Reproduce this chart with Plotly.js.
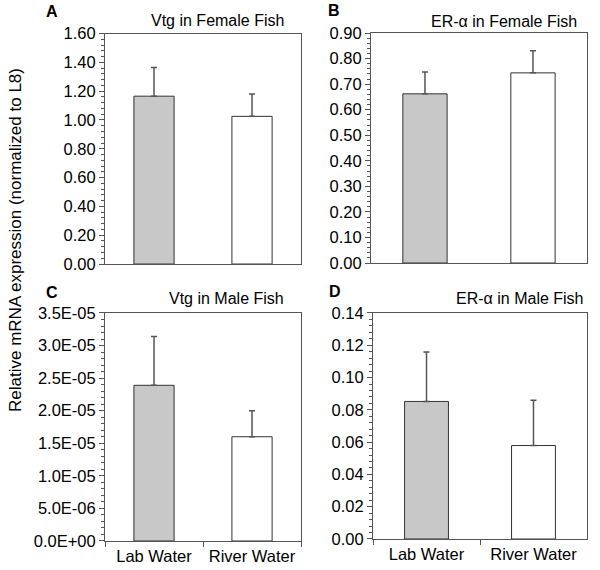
<!DOCTYPE html>
<html>
<head>
<meta charset="utf-8">
<script src="https://cdn.plot.ly/plotly-3.0.1.min.js"></script>
<style>
  body { margin: 0; background: #fff; }
  #chart { width: 600px; height: 570px; }
</style>
</head>
<body>
<div id="chart"></div>
<script>
// groups on the x axis
let categories = ['Lab Water', 'River Water'];

// A - Vtg in female fish
let vtgFemale = [1.165, 1.025];
let vtgFemaleErr = [0.200, 0.155];
// B - ER-alpha in female fish
let erFemale = [0.662, 0.744];
let erFemaleErr = [0.085, 0.087];
// C - Vtg in male fish
let vtgMale = [2.39e-5, 1.60e-5];
let vtgMaleErr = [0.75e-5, 0.40e-5];
// D - ER-alpha in male fish
let erMale = [0.0852, 0.0579];
let erMaleErr = [0.0307, 0.0281];

let vtgMaleTicks = [0, 5e-6, 1e-5, 1.5e-5, 2e-5, 2.5e-5, 3e-5, 3.5e-5];

let fontFam = 'Arial, "Liberation Sans", sans-serif';
let axisCol = '#555555';
let barFill = ['#c8c8c8', '#ffffff'];

function sciLabel(v) {
    // 2.5e-5 -> 2.5E-05
    let s = v.toExponential(1).toUpperCase();
    return s.replace(/E([+-])(\d)$/, 'E$10$2');
}

function barTrace(vals, errs, xa, ya) {
    return {
        type: 'bar',
        x: categories,
        y: vals,
        xaxis: xa,
        yaxis: ya,
        width: 0.41,
        marker: { color: barFill, line: { color: '#333333', width: 1 } },
        error_y: {
            type: 'data',
            symmetric: false,
            array: errs,
            arrayminus: [0, 0],
            color: axisCol,
            thickness: 1.5,
            width: 3,
        },
        hoverinfo: 'skip',
        showlegend: false,
    };
}

let data = [
    barTrace(vtgFemale, vtgFemaleErr, 'x', 'y'),
    barTrace(erFemale, erFemaleErr, 'x2', 'y2'),
    barTrace(vtgMale, vtgMaleErr, 'x3', 'y3'),
    barTrace(erMale, erMaleErr, 'x4', 'y4'),
];

function xAxis(dom, anchor, bottom) {
    return {
        domain: dom,
        anchor: anchor,
        type: 'category',
        range: [-0.5, 1.5],
        showline: true,
        mirror: true,
        linecolor: axisCol,
        linewidth: 1,
        showgrid: false,
        zeroline: false,
        ticks: bottom ? 'outside' : '',
        tickson: 'boundaries',
        ticklen: 5,
        tickcolor: axisCol,
        showticklabels: bottom,
        tickfont: { family: fontFam, size: 16.5, color: '#000' },
    };
}

function yAxis(dom, anchor, range, dtick, minorStep, fmt) {
    return {
        domain: dom,
        anchor: anchor,
        range: range,
        dtick: dtick,
        tickformat: fmt,
        showline: true,
        mirror: true,
        linecolor: axisCol,
        linewidth: 1,
        showgrid: false,
        zeroline: false,
        ticks: 'outside',
        ticklen: 5,
        tickcolor: axisCol,
        minor: { dtick: minorStep, ticks: 'outside', ticklen: 3, tickcolor: axisCol, showgrid: false },
        tickfont: { family: fontFam, size: 16.5, color: '#000' },
    };
}

let yC = yAxis([0.0509, 0.4509], 'x3', [0, 3.5e-5], 5e-6, 1e-6, '');
yC.tickmode = 'array';
yC.tickvals = vtgMaleTicks;
yC.ticktext = vtgMaleTicks.map(sciLabel);

function panelTitle(txt, x, y) {
    return { text: txt, xref: 'paper', yref: 'paper', x: x, y: y, xanchor: 'right', yanchor: 'middle',
             showarrow: false, font: { family: fontFam, size: 16, color: '#000' } };
}
function panelLetter(txt, x, y) {
    return { text: '<b>' + txt + '</b>', xref: 'paper', yref: 'paper', x: x, y: y, xanchor: 'center', yanchor: 'middle',
             showarrow: false, font: { family: fontFam, size: 16, color: '#000' } };
}

let layout = {
    width: 600,
    height: 570,
    margin: { l: 0, r: 0, t: 0, b: 0, pad: 0 },
    paper_bgcolor: '#ffffff',
    plot_bgcolor: '#ffffff',
    bargap: 0.2,
    xaxis: xAxis([0.175, 0.5017], 'y', false),
    yaxis: yAxis([0.5368, 0.9412], 'x', [0, 1.6], 0.2, 0.04, '.2f'),
    xaxis2: xAxis([0.6183, 0.9783], 'y2', false),
    yaxis2: yAxis([0.5386, 0.9421], 'x2', [0, 0.9], 0.1, 0.02, '.2f'),
    xaxis3: xAxis([0.175, 0.5017], 'y3', true),
    yaxis3: yC,
    xaxis4: xAxis([0.6217, 0.9783], 'y4', true),
    yaxis4: yAxis([0.0544, 0.4509], 'x4', [0, 0.14], 0.02, 0.004, '.2f'),
    annotations: [
        panelTitle('Vtg in Female Fish', 0.4767, 0.9649),
        panelTitle('ER-α in Female Fish', 0.965, 0.962),
        panelTitle('Vtg in Male Fish', 0.4767, 0.477),
        panelTitle('ER-α in Male Fish', 0.9767, 0.4755),
        panelLetter('A', 0.0867, 0.979),
        panelLetter('B', 0.5567, 0.981),
        panelLetter('C', 0.0867, 0.486),
        panelLetter('D', 0.5583, 0.488),
        {
            text: 'Relative mRNA expression (normalized to L8)',
            xref: 'paper', yref: 'paper', x: 16 / 600, y: 0.579,
            xanchor: 'center', yanchor: 'middle', textangle: -90, showarrow: false,
            font: { family: fontFam, size: 17, color: '#000' },
        },
    ],
};

Plotly.newPlot('chart', data, layout, { staticPlot: true });
</script>
</body>
</html>
